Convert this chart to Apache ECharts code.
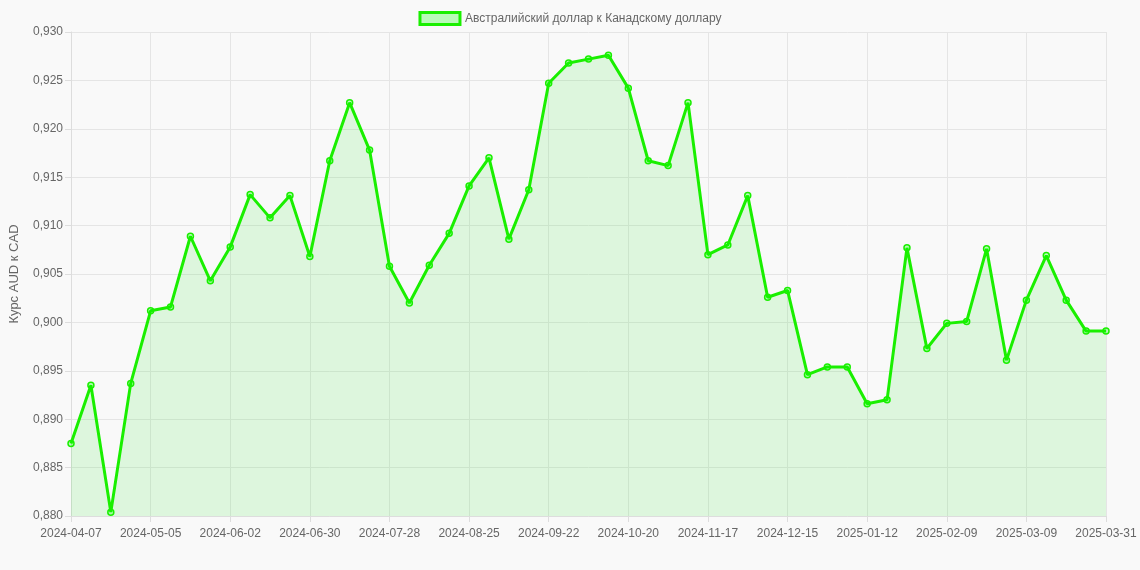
<!DOCTYPE html>
<html><head><meta charset="utf-8">
<script src="https://cdn.jsdelivr.net/npm/echarts@6/dist/echarts.min.js"></script>
<style>html,body{margin:0;background:#f9f9f9}#main{width:1140px;height:570px}</style>
</head><body><div id="main"></div>
<script>
var seriesName = 'Австралийский доллар к Канадскому доллару';
var rates = [0.8875,0.8935,0.8804,0.8937,0.9012,0.9016,0.9089,0.9043,0.9078,0.9132,
  0.9108,0.9131,0.9068,0.9167,0.9227,0.9178,0.9058,0.9020,0.9059,0.9092,
  0.9141,0.9170,0.9086,0.9137,0.9247,0.9268,0.9272,0.9276,0.9242,0.9167,
  0.9162,0.9227,0.9070,0.9080,0.9131,0.9026,0.9033,0.8946,0.8954,0.8954,
  0.8916,0.8920,0.9077,0.8973,0.8999,0.9001,0.9076,0.8961,0.9023,0.9069,
  0.9023,0.8991,0.8991];

// weekly dates from 2024-04-07, last one is 2025-03-31
var dates = [];
var d = new Date(Date.UTC(2024, 3, 7));
for (var i = 0; i < rates.length - 1; i++) {
    dates.push(d.toISOString().slice(0, 10));
    d.setUTCDate(d.getUTCDate() + 7);
}
dates.push('2025-03-31');

var myChart = echarts.init(document.getElementById('main'));
myChart.setOption({
    animation: false,
    textStyle: {fontFamily: 'Liberation Sans, Arial, sans-serif'},
    legend: {
        top: 6,
        itemWidth: 40, itemHeight: 12,
        textStyle: {color: '#666', fontSize: 12},
        data: [{name: seriesName, icon: 'rect',
            itemStyle: {color: 'rgba(0,255,0,0.25)', borderColor: '#1aef00', borderWidth: 3}}]
    },
    grid: {left: 68, right: 34, top: 32, bottom: 54, containLabel: false},
    xAxis: {
        type: 'category', boundaryGap: false, data: dates,
        axisLine: {lineStyle: {color: '#ddd'}},
        axisTick: {show: true, length: 6, lineStyle: {color: '#ddd'}, interval: 3},
        axisLabel: {color: '#666', fontSize: 12, interval: function (i) { return i % 4 === 0; }, margin: 12},
        splitLine: {show: true, interval: 3, lineStyle: {color: '#e5e5e5'}}
    },
    yAxis: {
        type: 'value', min: 0.88, max: 0.93, interval: 0.005,
        name: 'Курс AUD к CAD', nameLocation: 'middle', nameGap: 50,
        nameTextStyle: {color: '#666', fontSize: 13},
        axisLine: {show: true, lineStyle: {color: '#ddd'}},
        axisTick: {show: true, length: 6, lineStyle: {color: '#ddd'}},
        axisLabel: {color: '#666', fontSize: 12,
            formatter: function (v) { return v.toFixed(3).replace('.', ','); }},
        splitLine: {lineStyle: {color: '#e5e5e5'}}
    },
    series: [{
        name: seriesName, type: 'line', data: rates,
        symbol: 'circle', symbolSize: 6, showAllSymbol: true,
        itemStyle: {color: 'rgba(0,255,0,0.25)', borderColor: '#1aef00', borderWidth: 1.5},
        lineStyle: {color: '#1aef00', width: 3},
        areaStyle: {color: 'rgba(60,235,60,0.2)'}
    }]
});
</script></body></html>
